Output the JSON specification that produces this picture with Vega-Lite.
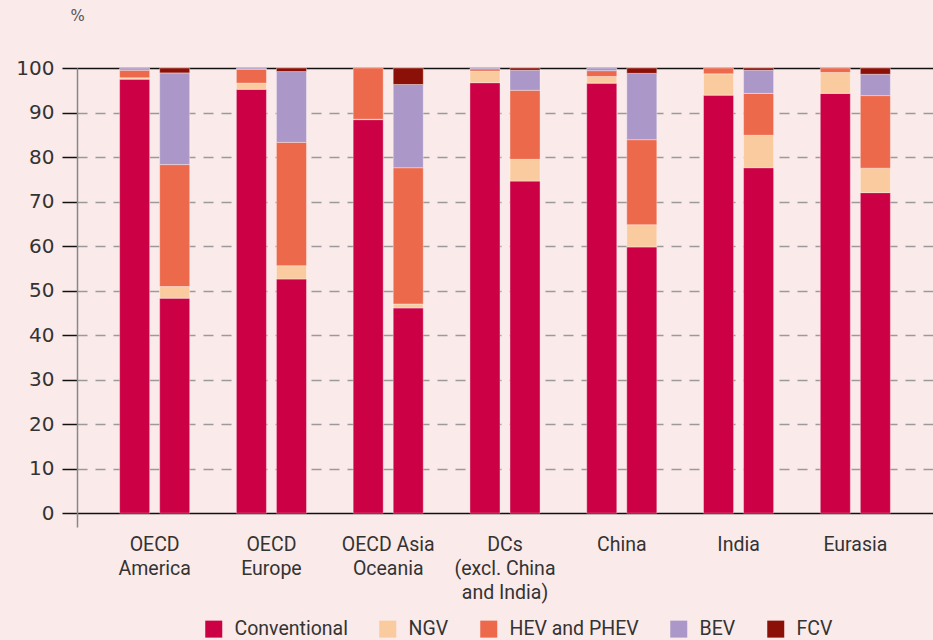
{
  "$schema": "https://vega.github.io/schema/vega-lite/v6.json",
  "autosize": {"type": "none"},
  "padding": {"left": 77, "top": 68, "right": 0, "bottom": 113},
  "width": 856,
  "height": 459,
  "background": "#fbeaea",
  "config": {
    "view": {"stroke": null},
    "font": "Roboto"
  },
  "datasets": {
    "types": [
      {"type": "Conventional", "rank": 1},
      {"type": "NGV", "rank": 2},
      {"type": "HEV and PHEV", "rank": 3},
      {"type": "BEV", "rank": 4},
      {"type": "FCV", "rank": 5}
    ],
    "shares": [
      {"region": "OECD America", "scenario": "4DS", "type": "Conventional", "share": 97.5},
      {"region": "OECD America", "scenario": "4DS", "type": "NGV", "share": 0.3},
      {"region": "OECD America", "scenario": "4DS", "type": "HEV and PHEV", "share": 1.7},
      {"region": "OECD America", "scenario": "4DS", "type": "BEV", "share": 0.5},
      {"region": "OECD America", "scenario": "2DS", "type": "Conventional", "share": 48.3},
      {"region": "OECD America", "scenario": "2DS", "type": "NGV", "share": 2.6},
      {"region": "OECD America", "scenario": "2DS", "type": "HEV and PHEV", "share": 27.4},
      {"region": "OECD America", "scenario": "2DS", "type": "BEV", "share": 20.6},
      {"region": "OECD America", "scenario": "2DS", "type": "FCV", "share": 1.1},
      {"region": "OECD Europe", "scenario": "4DS", "type": "Conventional", "share": 95.2},
      {"region": "OECD Europe", "scenario": "4DS", "type": "NGV", "share": 1.4},
      {"region": "OECD Europe", "scenario": "4DS", "type": "HEV and PHEV", "share": 3.1},
      {"region": "OECD Europe", "scenario": "4DS", "type": "BEV", "share": 0.3},
      {"region": "OECD Europe", "scenario": "2DS", "type": "Conventional", "share": 52.6},
      {"region": "OECD Europe", "scenario": "2DS", "type": "NGV", "share": 3.0},
      {"region": "OECD Europe", "scenario": "2DS", "type": "HEV and PHEV", "share": 27.7},
      {"region": "OECD Europe", "scenario": "2DS", "type": "BEV", "share": 15.9},
      {"region": "OECD Europe", "scenario": "2DS", "type": "FCV", "share": 0.8},
      {"region": "OECD Asia Oceania", "scenario": "4DS", "type": "Conventional", "share": 88.4},
      {"region": "OECD Asia Oceania", "scenario": "4DS", "type": "NGV", "share": 0.1},
      {"region": "OECD Asia Oceania", "scenario": "4DS", "type": "HEV and PHEV", "share": 11.5},
      {"region": "OECD Asia Oceania", "scenario": "2DS", "type": "Conventional", "share": 46.1},
      {"region": "OECD Asia Oceania", "scenario": "2DS", "type": "NGV", "share": 0.9},
      {"region": "OECD Asia Oceania", "scenario": "2DS", "type": "HEV and PHEV", "share": 30.6},
      {"region": "OECD Asia Oceania", "scenario": "2DS", "type": "BEV", "share": 18.7},
      {"region": "OECD Asia Oceania", "scenario": "2DS", "type": "FCV", "share": 3.7},
      {"region": "DCs (excl. China and India)", "scenario": "4DS", "type": "Conventional", "share": 96.7},
      {"region": "DCs (excl. China and India)", "scenario": "4DS", "type": "NGV", "share": 2.6},
      {"region": "DCs (excl. China and India)", "scenario": "4DS", "type": "HEV and PHEV", "share": 0.5},
      {"region": "DCs (excl. China and India)", "scenario": "4DS", "type": "BEV", "share": 0.2},
      {"region": "DCs (excl. China and India)", "scenario": "2DS", "type": "Conventional", "share": 74.6},
      {"region": "DCs (excl. China and India)", "scenario": "2DS", "type": "NGV", "share": 4.9},
      {"region": "DCs (excl. China and India)", "scenario": "2DS", "type": "HEV and PHEV", "share": 15.5},
      {"region": "DCs (excl. China and India)", "scenario": "2DS", "type": "BEV", "share": 4.5},
      {"region": "DCs (excl. China and India)", "scenario": "2DS", "type": "FCV", "share": 0.5},
      {"region": "China", "scenario": "4DS", "type": "Conventional", "share": 96.6},
      {"region": "China", "scenario": "4DS", "type": "NGV", "share": 1.5},
      {"region": "China", "scenario": "4DS", "type": "HEV and PHEV", "share": 1.3},
      {"region": "China", "scenario": "4DS", "type": "BEV", "share": 0.6},
      {"region": "China", "scenario": "2DS", "type": "Conventional", "share": 59.8},
      {"region": "China", "scenario": "2DS", "type": "NGV", "share": 5.0},
      {"region": "China", "scenario": "2DS", "type": "HEV and PHEV", "share": 19.1},
      {"region": "China", "scenario": "2DS", "type": "BEV", "share": 14.9},
      {"region": "China", "scenario": "2DS", "type": "FCV", "share": 1.2},
      {"region": "India", "scenario": "4DS", "type": "Conventional", "share": 93.9},
      {"region": "India", "scenario": "4DS", "type": "NGV", "share": 4.8},
      {"region": "India", "scenario": "4DS", "type": "HEV and PHEV", "share": 1.3},
      {"region": "India", "scenario": "2DS", "type": "Conventional", "share": 77.6},
      {"region": "India", "scenario": "2DS", "type": "NGV", "share": 7.3},
      {"region": "India", "scenario": "2DS", "type": "HEV and PHEV", "share": 9.4},
      {"region": "India", "scenario": "2DS", "type": "BEV", "share": 5.2},
      {"region": "India", "scenario": "2DS", "type": "FCV", "share": 0.5},
      {"region": "Eurasia", "scenario": "4DS", "type": "Conventional", "share": 94.3},
      {"region": "Eurasia", "scenario": "4DS", "type": "NGV", "share": 4.7},
      {"region": "Eurasia", "scenario": "4DS", "type": "HEV and PHEV", "share": 1.0},
      {"region": "Eurasia", "scenario": "2DS", "type": "Conventional", "share": 72.0},
      {"region": "Eurasia", "scenario": "2DS", "type": "NGV", "share": 5.5},
      {"region": "Eurasia", "scenario": "2DS", "type": "HEV and PHEV", "share": 16.3},
      {"region": "Eurasia", "scenario": "2DS", "type": "BEV", "share": 4.8},
      {"region": "Eurasia", "scenario": "2DS", "type": "FCV", "share": 1.4}
    ]
  },
  "data": {"name": "shares"},
  "transform": [
    {"lookup": "type", "from": {"data": {"name": "types"}, "key": "type", "fields": ["rank"]}}
  ],
  "mark": {"type": "bar", "stroke": "#ffffff", "strokeWidth": 1, "strokeOpacity": 0.35},
  "encoding": {
    "x": {
      "field": "region",
      "type": "nominal",
      "sort": ["OECD America", "OECD Europe", "OECD Asia Oceania", "DCs (excl. China and India)", "China", "India", "Eurasia"],
      "scale": {"paddingInner": 0.4, "paddingOuter": 0.365},
      "axis": {
        "title": null,
        "domain": false,
        "ticks": false,
        "labelAngle": 0,
        "labelPadding": 8.5,
        "labelBaseline": "top",
        "labelFont": "Roboto",
        "labelFontSize": 19.5,
        "labelColor": "#333333",
        "labelLineHeight": 24,
        "labelLimit": 200,
        "labelExpr": "datum.value == 'OECD America' ? ['OECD', 'America'] : datum.value == 'OECD Europe' ? ['OECD', 'Europe'] : datum.value == 'OECD Asia Oceania' ? ['OECD Asia', 'Oceania'] : datum.value == 'DCs (excl. China and India)' ? ['DCs', '(excl. China', 'and India)'] : datum.value"
      }
    },
    "xOffset": {
      "field": "scenario",
      "type": "nominal",
      "sort": ["4DS", "2DS"],
      "scale": {"paddingInner": 0.25, "paddingOuter": 0}
    },
    "y": {
      "field": "share",
      "type": "quantitative",
      "stack": "zero",
      "scale": {"domain": [-3.1, 100], "nice": false, "zero": false},
      "axis": {
        "title": "%",
        "titleAngle": 0,
        "titleX": 0,
        "titleY": -48,
        "titleAlign": "center",
        "titleBaseline": "alphabetic",
        "titleFont": "DejaVu Sans",
        "titleFontSize": 15,
        "titleFontWeight": "normal",
        "titleColor": "#555555",
        "values": [0, 10, 20, 30, 40, 50, 60, 70, 80, 90, 100],
        "labelFont": "DejaVu Sans",
        "labelFontSize": 20,
        "labelColor": "#333333",
        "labelPadding": 8,
        "tickSize": 15,
        "tickColor": "#111111",
        "tickWidth": 1.5,
        "domainColor": "#888888",
        "domainWidth": 1.5,
        "grid": true,
        "gridWidth": 1.5,
        "gridColor": {"condition": {"test": "datum.value === 0 || datum.value === 100", "value": "#111111"}, "value": "#9a9a9a"},
        "gridDash": {"condition": {"test": "datum.value === 0 || datum.value === 100", "value": []}, "value": [10, 8]}
      }
    },
    "color": {
      "field": "type",
      "type": "nominal",
      "scale": {
        "domain": ["Conventional", "NGV", "HEV and PHEV", "BEV", "FCV"],
        "range": ["#cc0044", "#fbcba0", "#ec694b", "#ab98c8", "#8b1008"]
      },
      "legend": {
        "title": null,
        "orient": "none",
        "legendX": 127,
        "legendY": 551,
        "direction": "horizontal",
        "columns": 5,
        "columnPadding": 30,
        "padding": 0,
        "symbolType": "square",
        "symbolSize": 289,
        "symbolStrokeWidth": 0,
        "symbolOpacity": 1,
        "labelOffset": 11,
        "labelFont": "Roboto",
        "labelFontSize": 19.5,
        "labelColor": "#333333",
        "labelLimit": 300
      }
    },
    "order": {"field": "rank", "type": "quantitative", "sort": "ascending"}
  }
}
